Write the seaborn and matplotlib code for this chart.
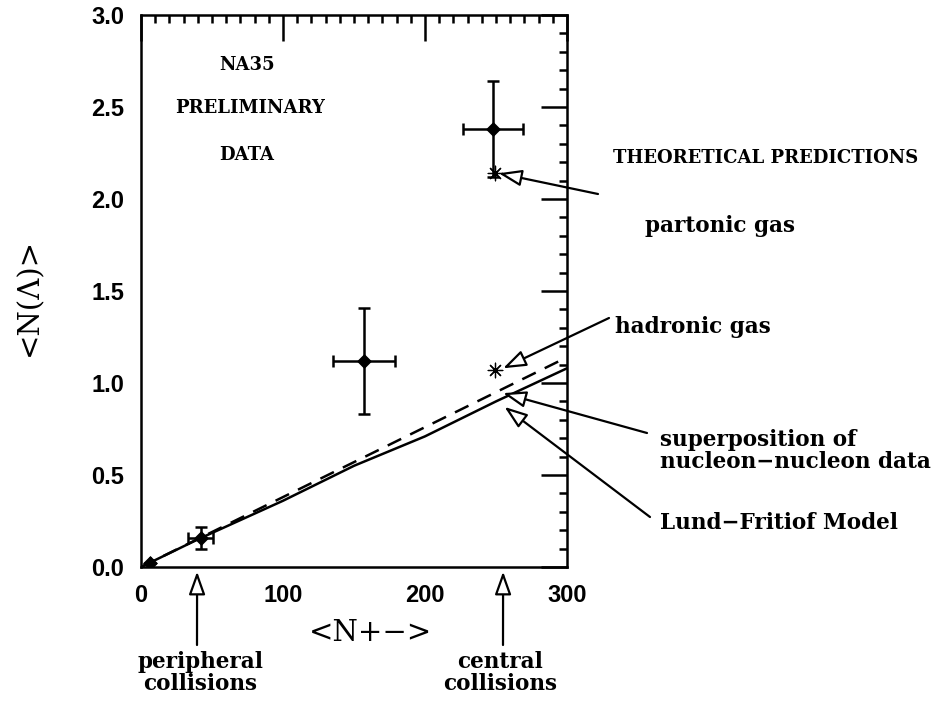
import numpy as np
import pandas as pd
import matplotlib
matplotlib.use("Agg")
import matplotlib.pyplot as plt
import seaborn as sns
from matplotlib.ticker import MultipleLocator, FormatStrFormatter

# measured points (NA35 preliminary)
n_charged = [6, 42, 157, 248]
n_lambda = [0.02, 0.16, 1.12, 2.38]
err_x = [0, 9, 22, 21]
err_y = [0, 0.06, 0.29, 0.26]

# theoretical predictions for central collisions
pred_x = [249, 249]
pred_y = [2.14, 1.07]

# model curves
lund_x = [0, 40, 100, 150, 200, 250, 300]
lund_y = [0.0, 0.15, 0.36, 0.55, 0.71, 0.90, 1.08]
nn_x = [0, 100, 200, 250, 300]
nn_y = [0.0, 0.38, 0.76, 0.95, 1.14]

W, H = 941, 702


def fpos(x, y):
    # pixel position measured from top-left -> figure fraction
    return x / W, 1 - y / H


sns.set_style("white")
plt.rcParams['font.family'] = ['DejaVu Serif']
plt.rcParams['text.color'] = 'black'
plt.rcParams['xtick.color'] = 'black'
plt.rcParams['ytick.color'] = 'black'

fig = plt.figure(figsize=(W / 100, H / 100), dpi=100)
ax = fig.add_axes([141 / W, 1 - 567 / H, 426 / W, 552 / H])

df_lund = pd.DataFrame({"x": lund_x, "y": lund_y})
df_nn = pd.DataFrame({"x": nn_x, "y": nn_y})
sns.lineplot(data=df_lund, x="x", y="y", ax=ax, color="black", lw=1.8)
sns.lineplot(data=df_nn, x="x", y="y", ax=ax, color="black", lw=1.8,
             linestyle=(0, (6, 4)))

ax.errorbar(n_charged, n_lambda, xerr=err_x, yerr=err_y, fmt="none",
            ecolor="black", elinewidth=1.8, capsize=4, capthick=1.8)
sns.scatterplot(x=n_charged, y=n_lambda, ax=ax, marker="D", s=50,
                color="black", edgecolor="black", zorder=5)
sns.scatterplot(x=pred_x, y=pred_y, ax=ax, marker=(8, 2, 0), s=110,
                color="black", linewidth=0.9, zorder=5)

ax.set_xlim(0, 300)
ax.set_ylim(0, 3.0)
ax.xaxis.set_major_locator(MultipleLocator(100))
ax.xaxis.set_minor_locator(MultipleLocator(10))
ax.yaxis.set_major_locator(MultipleLocator(0.5))
ax.yaxis.set_minor_locator(MultipleLocator(0.1))
ax.yaxis.set_major_formatter(FormatStrFormatter("%.1f"))
ax.tick_params(which="both", direction="in", top=True, right=True,
               width=1.8, color="black", labelcolor="black")
ax.tick_params(which="major", length=19, pad=12)
ax.tick_params(which="minor", length=6)
for lab in ax.get_xticklabels() + ax.get_yticklabels():
    lab.set_family("Liberation Sans")
    lab.set_fontweight("bold")
    lab.set_fontsize(17)
for s in ax.spines.values():
    s.set_linewidth(1.8)
    s.set_color("black")
ax.set_xlabel("")
ax.set_ylabel("")

fig.text(*fpos(370, 633), "<N+−>", fontsize=21, family="DejaVu Serif",
         ha="center", va="center")
fig.text(*fpos(29, 297), "<N(Λ)>", fontsize=21, family="DejaVu Serif",
         ha="center", va="center", rotation=90)

caps = dict(family="DejaVu Serif", fontweight="bold", fontsize=13, va="center")
lower = dict(family="DejaVu Serif", fontweight="bold", fontsize=15.5, va="center")
fig.text(*fpos(247, 65), "NA35", ha="center", **caps)
fig.text(*fpos(250, 108), "PRELIMINARY", ha="center", **caps)
fig.text(*fpos(247, 155), "DATA", ha="center", **caps)
fig.text(*fpos(613, 158), "THEORETICAL PREDICTIONS", ha="left", **caps)

fig.text(*fpos(645, 226), "partonic gas", ha="left", **lower)
fig.text(*fpos(615, 327), "hadronic gas", ha="left", **lower)
fig.text(*fpos(660, 451), "superposition of\nnucleon−nucleon data", ha="left",
         linespacing=1.05, **lower)
fig.text(*fpos(660, 523), "Lund−Fritiof Model", ha="left", **lower)
fig.text(*fpos(200, 673), "peripheral\ncollisions", ha="center",
         linespacing=1.05, **lower)
fig.text(*fpos(500, 673), "central\ncollisions", ha="center",
         linespacing=1.05, **lower)

# arrows: (head in data coords, tail in pixels from top-left)
arrow_heads = [(252, 2.14), (255, 1.08), (255, 0.945), (256, 0.87), (39.5, -0.025), (255, -0.025)]
arrow_tails = [(598, 194), (609, 318), (647, 433), (650, 517), (197, 645), (503, 645)]
for head, tail in zip(arrow_heads, arrow_tails):
    ax.annotate("", xy=head, xycoords="data", xytext=(tail[0], H - tail[1]),
                textcoords="figure pixels", annotation_clip=False,
                arrowprops=dict(arrowstyle="-|>,head_length=0.7,head_width=0.25",
                                fc="white", ec="black", lw=1.6,
                                mutation_scale=20, shrinkA=0, shrinkB=0))

fig.savefig("out.png", dpi=100)
